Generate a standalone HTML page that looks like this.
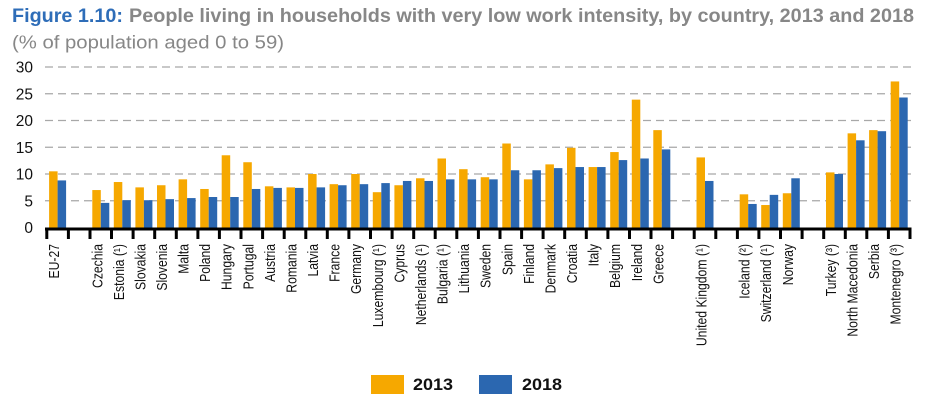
<!DOCTYPE html>
<html>
<head>
<meta charset="utf-8">
<style>
html,body{margin:0;padding:0;background:#fff;}
svg{display:block;}
text{font-family:"Liberation Sans",Arial,sans-serif;}
</style>
</head>
<body>
<svg width="925" height="405" viewBox="0 0 925 405" xmlns="http://www.w3.org/2000/svg">
<!-- Title -->
<text x="12" y="22" font-size="19.5" font-weight="bold" fill="#2E6DB8" textLength="111" lengthAdjust="spacingAndGlyphs">Figure 1.10:</text>
<text x="129" y="22" font-size="19.5" font-weight="bold" fill="#878787" textLength="785" lengthAdjust="spacingAndGlyphs">People living in households with very low work intensity, by country, 2013 and 2018</text>
<text x="12" y="48.5" font-size="18.5" fill="#878787" textLength="272" lengthAdjust="spacingAndGlyphs">(% of population aged 0 to 59)</text>

<!-- gridlines -->
<g stroke="#a8a8a8" stroke-width="1.3" stroke-dasharray="8 5">
<line x1="45" y1="67" x2="912" y2="67"/>
<line x1="45" y1="93.75" x2="912" y2="93.75"/>
<line x1="45" y1="120.5" x2="912" y2="120.5"/>
<line x1="45" y1="147.25" x2="912" y2="147.25"/>
<line x1="45" y1="174" x2="912" y2="174"/>
<line x1="45" y1="200.75" x2="912" y2="200.75"/>
</g>

<!-- y labels -->
<g font-size="15.5" fill="#111" text-anchor="end">
<text x="33" y="72.5">30</text>
<text x="33" y="99.25">25</text>
<text x="33" y="126">20</text>
<text x="33" y="152.75">15</text>
<text x="33" y="179.5">10</text>
<text x="33" y="206.25">5</text>
<text x="33" y="233">0</text>
</g>

<!-- bars -->
<g transform="translate(0,227.5) scale(1,-5.35)">
<g fill="#F6A800">
<rect x="49.1" y="0" width="8.5" height="10.5"/>
<rect x="92.3" y="0" width="8.5" height="7.0"/>
<rect x="113.8" y="0" width="8.5" height="8.5"/>
<rect x="135.4" y="0" width="8.5" height="7.5"/>
<rect x="157.0" y="0" width="8.5" height="7.9"/>
<rect x="178.6" y="0" width="8.5" height="9.0"/>
<rect x="200.2" y="0" width="8.5" height="7.2"/>
<rect x="221.7" y="0" width="8.5" height="13.5"/>
<rect x="243.3" y="0" width="8.5" height="12.2"/>
<rect x="264.9" y="0" width="8.5" height="7.7"/>
<rect x="286.5" y="0" width="8.5" height="7.5"/>
<rect x="308.1" y="0" width="8.5" height="10.0"/>
<rect x="329.6" y="0" width="8.5" height="8.1"/>
<rect x="351.2" y="0" width="8.5" height="10.0"/>
<rect x="372.8" y="0" width="8.5" height="6.6"/>
<rect x="394.4" y="0" width="8.5" height="7.9"/>
<rect x="416.0" y="0" width="8.5" height="9.2"/>
<rect x="437.5" y="0" width="8.5" height="12.9"/>
<rect x="459.1" y="0" width="8.5" height="10.9"/>
<rect x="480.7" y="0" width="8.5" height="9.4"/>
<rect x="502.3" y="0" width="8.5" height="15.7"/>
<rect x="523.9" y="0" width="8.5" height="9.0"/>
<rect x="545.4" y="0" width="8.5" height="11.8"/>
<rect x="567.0" y="0" width="8.5" height="14.9"/>
<rect x="588.6" y="0" width="8.5" height="11.3"/>
<rect x="610.2" y="0" width="8.5" height="14.1"/>
<rect x="631.8" y="0" width="8.5" height="23.9"/>
<rect x="653.3" y="0" width="8.5" height="18.2"/>
<rect x="696.5" y="0" width="8.5" height="13.1"/>
<rect x="739.7" y="0" width="8.5" height="6.2"/>
<rect x="761.2" y="0" width="8.5" height="4.2"/>
<rect x="782.8" y="0" width="8.5" height="6.4"/>
<rect x="826.0" y="0" width="8.5" height="10.3"/>
<rect x="847.6" y="0" width="8.5" height="17.6"/>
<rect x="869.1" y="0" width="8.5" height="18.2"/>
<rect x="890.7" y="0" width="8.5" height="27.3"/>
</g>
<g fill="#2B67B0">
<rect x="57.6" y="0" width="8.5" height="8.8"/>
<rect x="100.8" y="0" width="8.5" height="4.6"/>
<rect x="122.3" y="0" width="8.5" height="5.1"/>
<rect x="143.9" y="0" width="8.5" height="5.1"/>
<rect x="165.5" y="0" width="8.5" height="5.3"/>
<rect x="187.1" y="0" width="8.5" height="5.5"/>
<rect x="208.7" y="0" width="8.5" height="5.7"/>
<rect x="230.2" y="0" width="8.5" height="5.7"/>
<rect x="251.8" y="0" width="8.5" height="7.2"/>
<rect x="273.4" y="0" width="8.5" height="7.4"/>
<rect x="295.0" y="0" width="8.5" height="7.4"/>
<rect x="316.6" y="0" width="8.5" height="7.5"/>
<rect x="338.1" y="0" width="8.5" height="7.9"/>
<rect x="359.7" y="0" width="8.5" height="8.1"/>
<rect x="381.3" y="0" width="8.5" height="8.3"/>
<rect x="402.9" y="0" width="8.5" height="8.7"/>
<rect x="424.5" y="0" width="8.5" height="8.7"/>
<rect x="446.0" y="0" width="8.5" height="9.0"/>
<rect x="467.6" y="0" width="8.5" height="9.0"/>
<rect x="489.2" y="0" width="8.5" height="9.0"/>
<rect x="510.8" y="0" width="8.5" height="10.7"/>
<rect x="532.4" y="0" width="8.5" height="10.7"/>
<rect x="553.9" y="0" width="8.5" height="11.1"/>
<rect x="575.5" y="0" width="8.5" height="11.3"/>
<rect x="597.1" y="0" width="8.5" height="11.3"/>
<rect x="618.7" y="0" width="8.5" height="12.6"/>
<rect x="640.3" y="0" width="8.5" height="12.9"/>
<rect x="661.8" y="0" width="8.5" height="14.6"/>
<rect x="705.0" y="0" width="8.5" height="8.7"/>
<rect x="748.2" y="0" width="8.5" height="4.4"/>
<rect x="769.7" y="0" width="8.5" height="6.1"/>
<rect x="791.3" y="0" width="8.5" height="9.2"/>
<rect x="834.5" y="0" width="8.5" height="10.0"/>
<rect x="856.1" y="0" width="8.5" height="16.3"/>
<rect x="877.6" y="0" width="8.5" height="18.0"/>
<rect x="899.2" y="0" width="8.5" height="24.3"/>
</g>
</g>

<!-- axis and ticks -->
<line x1="45" y1="229" x2="911.5" y2="229" stroke="#000" stroke-width="3"/>
<g stroke="#000" stroke-width="3">
<line x1="46.8" y1="229" x2="46.8" y2="239"/>
<line x1="68.4" y1="229" x2="68.4" y2="239"/>
<line x1="90.0" y1="229" x2="90.0" y2="239"/>
<line x1="111.5" y1="229" x2="111.5" y2="239"/>
<line x1="133.1" y1="229" x2="133.1" y2="239"/>
<line x1="154.7" y1="229" x2="154.7" y2="239"/>
<line x1="176.3" y1="229" x2="176.3" y2="239"/>
<line x1="197.9" y1="229" x2="197.9" y2="239"/>
<line x1="219.4" y1="229" x2="219.4" y2="239"/>
<line x1="241.0" y1="229" x2="241.0" y2="239"/>
<line x1="262.6" y1="229" x2="262.6" y2="239"/>
<line x1="284.2" y1="229" x2="284.2" y2="239"/>
<line x1="305.8" y1="229" x2="305.8" y2="239"/>
<line x1="327.3" y1="229" x2="327.3" y2="239"/>
<line x1="348.9" y1="229" x2="348.9" y2="239"/>
<line x1="370.5" y1="229" x2="370.5" y2="239"/>
<line x1="392.1" y1="229" x2="392.1" y2="239"/>
<line x1="413.7" y1="229" x2="413.7" y2="239"/>
<line x1="435.2" y1="229" x2="435.2" y2="239"/>
<line x1="456.8" y1="229" x2="456.8" y2="239"/>
<line x1="478.4" y1="229" x2="478.4" y2="239"/>
<line x1="500.0" y1="229" x2="500.0" y2="239"/>
<line x1="521.6" y1="229" x2="521.6" y2="239"/>
<line x1="543.1" y1="229" x2="543.1" y2="239"/>
<line x1="564.7" y1="229" x2="564.7" y2="239"/>
<line x1="586.3" y1="229" x2="586.3" y2="239"/>
<line x1="607.9" y1="229" x2="607.9" y2="239"/>
<line x1="629.5" y1="229" x2="629.5" y2="239"/>
<line x1="651.0" y1="229" x2="651.0" y2="239"/>
<line x1="672.6" y1="229" x2="672.6" y2="239"/>
<line x1="694.2" y1="229" x2="694.2" y2="239"/>
<line x1="715.8" y1="229" x2="715.8" y2="239"/>
<line x1="737.4" y1="229" x2="737.4" y2="239"/>
<line x1="758.9" y1="229" x2="758.9" y2="239"/>
<line x1="780.5" y1="229" x2="780.5" y2="239"/>
<line x1="802.1" y1="229" x2="802.1" y2="239"/>
<line x1="823.7" y1="229" x2="823.7" y2="239"/>
<line x1="845.3" y1="229" x2="845.3" y2="239"/>
<line x1="866.8" y1="229" x2="866.8" y2="239"/>
<line x1="888.4" y1="229" x2="888.4" y2="239"/>
<line x1="910.0" y1="229" x2="910.0" y2="239"/>
</g>

<!-- x labels -->
<g font-size="14.5" fill="#111" text-anchor="end">
<text transform="translate(59.1,244) rotate(-90) scale(0.84,1)">EU-27</text>
<text transform="translate(102.3,244) rotate(-90) scale(0.84,1)">Czechia</text>
<text transform="translate(123.8,244) rotate(-90) scale(0.84,1)">Estonia (¹)</text>
<text transform="translate(145.4,244) rotate(-90) scale(0.84,1)">Slovakia</text>
<text transform="translate(167.0,244) rotate(-90) scale(0.84,1)">Slovenia</text>
<text transform="translate(188.6,244) rotate(-90) scale(0.84,1)">Malta</text>
<text transform="translate(210.2,244) rotate(-90) scale(0.84,1)">Poland</text>
<text transform="translate(231.7,244) rotate(-90) scale(0.84,1)">Hungary</text>
<text transform="translate(253.3,244) rotate(-90) scale(0.84,1)">Portugal</text>
<text transform="translate(274.9,244) rotate(-90) scale(0.84,1)">Austria</text>
<text transform="translate(296.5,244) rotate(-90) scale(0.84,1)">Romania</text>
<text transform="translate(318.1,244) rotate(-90) scale(0.84,1)">Latvia</text>
<text transform="translate(339.6,244) rotate(-90) scale(0.84,1)">France</text>
<text transform="translate(361.2,244) rotate(-90) scale(0.84,1)">Germany</text>
<text transform="translate(382.8,244) rotate(-90) scale(0.84,1)">Luxembourg (¹)</text>
<text transform="translate(404.4,244) rotate(-90) scale(0.84,1)">Cyprus</text>
<text transform="translate(426.0,244) rotate(-90) scale(0.84,1)">Netherlands (¹)</text>
<text transform="translate(447.5,244) rotate(-90) scale(0.84,1)">Bulgaria (¹)</text>
<text transform="translate(469.1,244) rotate(-90) scale(0.84,1)">Lithuania</text>
<text transform="translate(490.7,244) rotate(-90) scale(0.84,1)">Sweden</text>
<text transform="translate(512.3,244) rotate(-90) scale(0.84,1)">Spain</text>
<text transform="translate(533.9,244) rotate(-90) scale(0.84,1)">Finland</text>
<text transform="translate(555.4,244) rotate(-90) scale(0.84,1)">Denmark</text>
<text transform="translate(577.0,244) rotate(-90) scale(0.84,1)">Croatia</text>
<text transform="translate(598.6,244) rotate(-90) scale(0.84,1)">Italy</text>
<text transform="translate(620.2,244) rotate(-90) scale(0.84,1)">Belgium</text>
<text transform="translate(641.8,244) rotate(-90) scale(0.84,1)">Ireland</text>
<text transform="translate(663.3,244) rotate(-90) scale(0.84,1)">Greece</text>
<text transform="translate(706.5,244) rotate(-90) scale(0.84,1)">United Kingdom (¹)</text>
<text transform="translate(749.7,244) rotate(-90) scale(0.84,1)">Iceland (²)</text>
<text transform="translate(771.2,244) rotate(-90) scale(0.84,1)">Switzerland (¹)</text>
<text transform="translate(792.8,244) rotate(-90) scale(0.84,1)">Norway</text>
<text transform="translate(836.0,244) rotate(-90) scale(0.84,1)">Turkey (³)</text>
<text transform="translate(857.6,244) rotate(-90) scale(0.84,1)">North Macedonia</text>
<text transform="translate(879.1,244) rotate(-90) scale(0.84,1)">Serbia</text>
<text transform="translate(900.7,244) rotate(-90) scale(0.84,1)">Montenegro (³)</text>
</g>

<!-- legend -->
<rect x="371" y="375" width="33" height="19" fill="#F6A800"/>
<text x="413" y="390" font-size="17" font-weight="bold" fill="#111" textLength="40" lengthAdjust="spacingAndGlyphs">2013</text>
<rect x="479" y="375" width="33" height="19" fill="#2B67B0"/>
<text x="522" y="390" font-size="17" font-weight="bold" fill="#111" textLength="40" lengthAdjust="spacingAndGlyphs">2018</text>
</svg>
</body>
</html>
